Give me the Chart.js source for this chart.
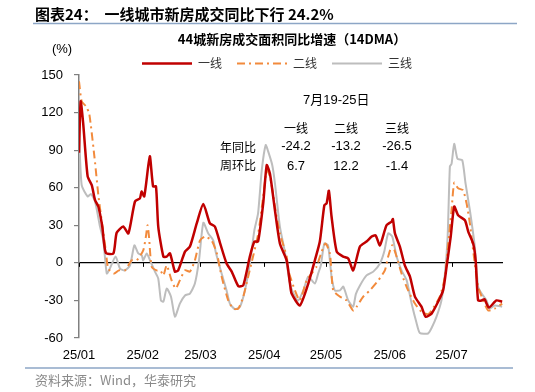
<!DOCTYPE html>
<html>
<head>
<meta charset="utf-8">
<script src="https://cdn.jsdelivr.net/npm/chart.js@4.4.1/dist/chart.umd.min.js"></script>
<style>
  html, body { margin: 0; padding: 0; background: #fff; }
  canvas { display: block; }
</style>
</head>
<body>
<canvas id="chart" width="535" height="392"></canvas>
<script>
// day index counted from 2025-01-01
const monthDays = [0, 31, 59, 90, 120, 151, 181];
const monthLabels = ['25/01', '25/02', '25/03', '25/04', '25/05', '25/06', '25/07'];

// 一线
const tier1Days = [0, 0.8, 2, 4.2, 6.2, 7.8, 9.4, 11.3, 13, 16.7, 18.3, 21.5, 24, 27.2, 29.6, 30.4, 31.7, 33.7, 34.5, 36, 37.4, 38.5, 41, 42.6, 44.2, 46.6, 48.2, 51.5, 53.9, 57.2, 60.4, 63.6, 66, 68.5, 71.7, 74.2, 77.4, 79.8, 83, 85.2, 87, 89.5, 91.2, 92.8, 95.2, 97.6, 100.9, 102.5, 103.3, 107.3, 111.4, 114.6, 117, 119.2, 120.3, 121.4, 122.7, 125.2, 128.4, 130.8, 133.2, 136.5, 139.7, 142.2, 144.1, 146.2, 149.4, 151.9, 152.5, 153.5, 155.9, 158.3, 160.8, 163.2, 166.4, 168.4, 171.3, 174.5, 176.9, 178.6, 180.6, 182.3, 184.2, 187.5, 189.1, 191.5, 192.7, 193.9, 195.6, 197, 199.1, 202.8, 205.6];
const tier1Vals = [88, 129, 112, 69, 62, 50, 45, 29, 8, 7.5, 24, 29, 23.5, 49, 51.5, 57, 53, 78, 85, 61, 61, 29, 5, 5, 7.5, -7, -6, 9, 13, 31.5, 47, 31.5, 29, 16, -0.5, -7, -18.6, -18, 5, 17, 17, 47.5, 78, 71, 42, 15.5, 2, -16.5, -24.5, -34, -16.5, 2, 17, 46, 47.5, 57.6, 37, 9, 5, 3.5, -6, 13, 17, 21, 22, 14, 30, 33, 35, 23.5, 13, -2, -11, -27, -35, -43, -40.5, -31, -22, -3, 21, 45, 38, 34, 25, 15.5, 2, -30, -30, -29, -35.7, -30, -31];

// 二线
const tier2Days = [0, 1.3, 3.4, 5, 7.8, 9.4, 11, 13, 14.2, 17.1, 19.4, 22.3, 25.6, 28, 31.2, 32.5, 33.3, 34, 35.3, 37.7, 39.5, 41, 42.6, 45, 47, 49, 51.5, 53.9, 56.3, 58.8, 61.2, 64.4, 66.9, 69.3, 72.5, 74.9, 77.4, 79.8, 82.2, 84.7, 87.1, 89.5, 91.2, 92.8, 95.2, 97.6, 100.9, 101.7, 104.9, 107.3, 110.6, 113, 115.4, 117.9, 119.8, 121.9, 123.5, 126.8, 130, 133.2, 134.9, 138.1, 141.3, 145.4, 148.6, 150.2, 152.2, 154.3, 156.7, 159.9, 163.2, 166.4, 169.6, 171.3, 175.3, 177.8, 179.4, 181, 182.3, 184.2, 186.6, 188.3, 189.9, 191.5, 193.9, 196.4, 198.8, 202, 205.6];
const tier2Vals = [145, 129, 125, 119, 80, 54, 34, 10, -4.5, -8.5, -6, -6, 2, 2, 10, 21, 30, 21, -3, -6, -6, -10, -2, -14, -20.5, -14, -6, -7, 2, 18, 21, 18, 8, -11, -30, -36.5, -36.5, -27, -11, 6, 23.5, 53, 74, 69, 45, 23.5, 5, -6, -22, -30, -14, -8.5, -3, 9, 15.5, 7.5, -22, -27, -30, -38, -35, -27, -22, -14, -6, 5, 14, 5, -8.5, -22, -32.5, -39, -41, -38, -27, -11, 15.5, 42, 64, 59.5, 58, 47.5, 31.5, 10, -19, -30, -38, -36.5, -32.5];

// 三线
const tier3Days = [0, 1.3, 4.2, 5.8, 7.8, 10.2, 11.8, 13.5, 15, 17.8, 19.9, 22.3, 24.8, 26.9, 28.8, 30.5, 31.2, 32.9, 34.5, 36.9, 38.5, 39.8, 41, 42.6, 44.7, 46.6, 49, 51.5, 53.9, 56.3, 58.3, 60.4, 62.8, 65.2, 66.5, 69.3, 71.7, 73.3, 75.8, 78.2, 80.6, 83, 85.2, 87, 88.8, 90.7, 91.9, 93.9, 95.2, 97.6, 100, 102.5, 104.1, 106.5, 109, 111.4, 114.6, 116.2, 117.5, 119.2, 121, 122.7, 124.3, 126.8, 128.4, 130.8, 133.2, 134.5, 136.5, 139.7, 143, 146.2, 148.3, 150.2, 152.2, 154.3, 156.7, 159.2, 161.6, 164, 165.6, 169.6, 171.3, 173.7, 176.1, 177.8, 179.1, 180.2, 181, 182.3, 183.9, 186.2, 187.8, 189.9, 192.3, 193.9, 195.6, 198, 199.6, 202, 205.6];
const tier3Vals = [105, 62, 53, 55, 49, 29, 18, -8.5, -4.5, 5, -4.5, -6, -2, 14, 7.5, 6, 2, 7.5, 2, -7, -12.5, -30, -31, -20.5, -27, -43, -32.5, -26, -24.5, -16.5, 2, 32, 23.5, 18, 8, -8.5, -22, -32.5, -37, -35, -22, -0.5, 26, 39.5, 74, 94, 89, 78, 63.5, 29, 9, -16.5, -24, -30, -22, -11, -16.5, -8.5, -2, 15.5, 14, -11, -22, -22, -19, -30, -35, -25, -18, -10, -7, -0.5, 9, 23.5, 21, 5, -6, -14, -32.5, -48, -56, -56.4, -52, -43, -30, -8.5, 21, 77, 79, 95, 83, 82, 63.5, 42, 13, -19, -24.5, -30, -36.5, -34, -35];

const tableCols = ['一线', '二线', '三线'];
const yoyVals = ['-24.2', '-13.2', '-26.5'];
const wowVals = ['6.7', '12.2', '-1.4'];

const RED = '#C00000';
const ORANGE = '#F28A3C';
const GREY = '#BDBDBD';
const ORANGE_DASH = [8, 4, 2, 4];

const NUM_FONT = '"Liberation Sans", Arial, "Noto Sans CJK SC", sans-serif';
const CJK_FONT = '"Noto Sans CJK SC", "Liberation Sans", sans-serif';

function toPoints(days, vals) {
  return days.map((d, i) => ({ x: d, y: vals[i] }));
}

// texts, legend, rules and month ticks drawn around the plot
const decorPlugin = {
  id: 'decor',
  afterDraw(chart) {
    const ctx = chart.ctx;
    const xs = chart.scales.x;
    const ys = chart.scales.y;
    ctx.save();

    // header
    ctx.fillStyle = '#000';
    ctx.textBaseline = 'middle';
    ctx.textAlign = 'left';
    ctx.font = 'bold 15px ' + CJK_FONT;
    ctx.fillText('图表24：  一线城市新房成交同比下行 24.2%', 35, 14);

    ctx.strokeStyle = '#8DA6C6';
    ctx.lineWidth = 1.5;
    ctx.beginPath();
    ctx.moveTo(33, 23.5);
    ctx.lineTo(517, 23.5);
    ctx.stroke();

    ctx.textAlign = 'center';
    ctx.font = 'bold 13px ' + CJK_FONT;
    ctx.fillText('44城新房成交面积同比增速（14DMA）', 292, 39.5);

    ctx.font = '13px ' + NUM_FONT;
    ctx.fillText('(%)', 62, 49);

    // legend
    const legendItems = [
      { label: '一线', color: RED, x: 142, width: 2.5, dash: [] },
      { label: '二线', color: ORANGE, x: 237, width: 2, dash: ORANGE_DASH },
      { label: '三线', color: GREY, x: 332, width: 2, dash: [] }
    ];
    legendItems.forEach(item => {
      ctx.strokeStyle = item.color;
      ctx.lineWidth = item.width;
      ctx.setLineDash(item.dash);
      ctx.beginPath();
      ctx.moveTo(item.x, 63.5);
      ctx.lineTo(item.x + 50, 63.5);
      ctx.stroke();
      ctx.setLineDash([]);
      ctx.fillStyle = '#333';
      ctx.textAlign = 'left';
      ctx.font = '12px ' + CJK_FONT;
      ctx.fillText(item.label, item.x + 56, 63.5);
    });

    // week table
    ctx.fillStyle = '#000';
    ctx.textAlign = 'left';
    ctx.font = '13px ' + NUM_FONT;
    ctx.fillText('7月19-25日', 303, 100);
    const colX = [296, 346, 397];
    ctx.textAlign = 'center';
    tableCols.forEach((t, i) => {
      ctx.font = '12px ' + CJK_FONT;
      ctx.fillText(t, colX[i], 128);
      ctx.font = '13px ' + NUM_FONT;
      ctx.fillText(yoyVals[i], colX[i], 146);
      ctx.fillText(wowVals[i], colX[i], 166);
    });
    ctx.textAlign = 'left';
    ctx.font = '12px ' + CJK_FONT;
    ctx.fillText('年同比', 220, 147);
    ctx.fillText('周环比', 220, 165);

    // month ticks on the zero line
    const y0 = ys.getPixelForValue(0);
    ctx.strokeStyle = '#000';
    ctx.lineWidth = 1;
    monthDays.forEach(d => {
      const px = Math.round(xs.getPixelForValue(d)) + 0.5;
      ctx.beginPath();
      ctx.moveTo(px, y0);
      ctx.lineTo(px, y0 + 4);
      ctx.stroke();
    });

    // footer
    ctx.strokeStyle = '#8DA6C6';
    ctx.lineWidth = 1.5;
    ctx.beginPath();
    ctx.moveTo(25, 368);
    ctx.lineTo(513, 368);
    ctx.stroke();
    ctx.fillStyle = '#8a8a8a';
    ctx.font = '13px ' + CJK_FONT;
    ctx.fillText('资料来源：Wind，华泰研究', 35, 380);

    ctx.restore();
  }
};

const ctx = document.getElementById('chart').getContext('2d');
new Chart(ctx, {
  type: 'line',
  data: {
    datasets: [
      {
        label: '一线',
        data: toPoints(tier1Days, tier1Vals),
        borderColor: RED,
        borderWidth: 2.5,
        pointRadius: 0,
        tension: 0.2
      },
      {
        label: '二线',
        data: toPoints(tier2Days, tier2Vals),
        borderColor: ORANGE,
        borderWidth: 2,
        borderDash: ORANGE_DASH,
        pointRadius: 0,
        tension: 0.2
      },
      {
        label: '三线',
        data: toPoints(tier3Days, tier3Vals),
        borderColor: GREY,
        borderWidth: 2,
        pointRadius: 0,
        tension: 0.2
      }
    ]
  },
  options: {
    responsive: false,
    animation: false,
    layout: { padding: { left: 0, right: 32, top: 75, bottom: 0 } },
    plugins: {
      legend: { display: false },
      tooltip: { enabled: false }
    },
    scales: {
      x: {
        type: 'linear',
        min: 0,
        max: 206,
        afterBuildTicks: scale => {
          scale.ticks = monthDays.map(v => ({ value: v }));
        },
        afterFit: scale => { scale.height = 54; },
        grid: { display: false, drawTicks: false },
        border: { display: false },
        ticks: {
          autoSkip: false,
          maxRotation: 0,
          padding: 10,
          color: '#000',
          font: { family: NUM_FONT, size: 13 },
          callback: v => monthLabels[monthDays.indexOf(v)]
        }
      },
      y: {
        min: -60,
        max: 150,
        afterFit: scale => { scale.width = 79; },
        grid: {
          drawOnChartArea: true,
          color: c => (c.tick && c.tick.value === 0 ? '#000' : 'rgba(0,0,0,0)'),
          lineWidth: 1.2,
          tickColor: '#808080',
          tickLength: 5
        },
        border: { display: true, color: '#808080', width: 1.5 },
        ticks: {
          stepSize: 30,
          padding: 11,
          color: '#000',
          font: { family: NUM_FONT, size: 13 }
        }
      }
    }
  },
  plugins: [decorPlugin]
});
</script>
</body>
</html>
